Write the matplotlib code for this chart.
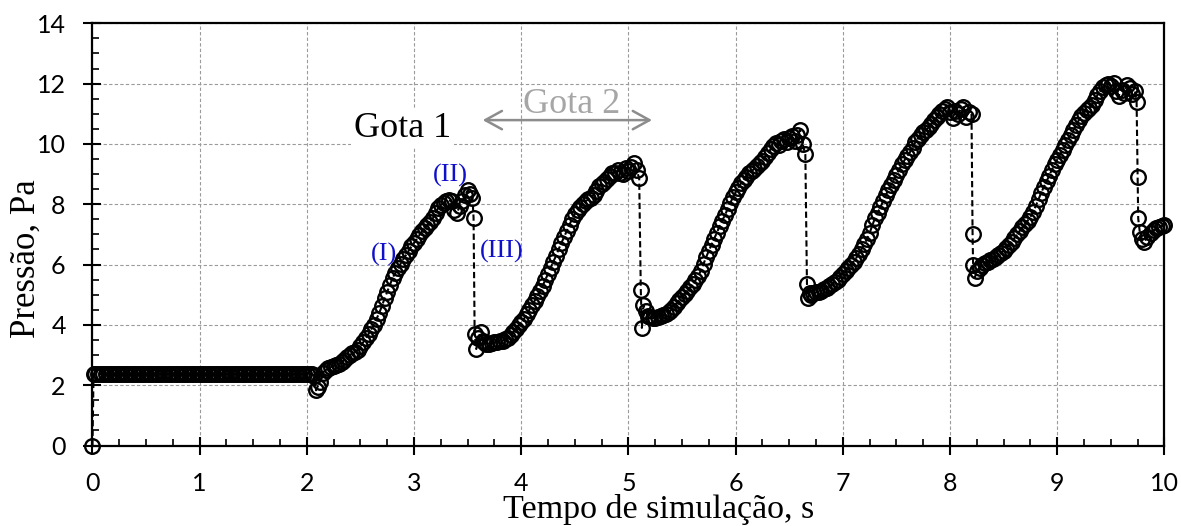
import matplotlib
matplotlib.use("Agg")
import matplotlib.pyplot as plt
from matplotlib.ticker import AutoMinorLocator

# ---------------- data ----------------
t_flat = [0.0, 0.01,
          0.025, 0.05, 0.075, 0.1, 0.125, 0.15, 0.175, 0.2, 0.225, 0.25, 0.275, 0.3, 0.325, 0.35, 0.375, 0.4, 0.425, 0.45, 0.475, 0.5,
          0.525, 0.55, 0.575, 0.6, 0.625, 0.65, 0.675, 0.7, 0.725, 0.75, 0.775, 0.8, 0.825, 0.85, 0.875, 0.9, 0.925, 0.95, 0.975, 1.0,
          1.025, 1.05, 1.075, 1.1, 1.125, 1.15, 1.175, 1.2, 1.225, 1.25, 1.275, 1.3, 1.325, 1.35, 1.375, 1.4, 1.425, 1.45, 1.475, 1.5,
          1.525, 1.55, 1.575, 1.6, 1.625, 1.65, 1.675, 1.7, 1.725, 1.75, 1.775, 1.8, 1.825, 1.85, 1.875, 1.9, 1.925, 1.95, 1.975, 2.0,
          2.025, 2.05]
p_flat = [0.0, 2.37,
          2.37, 2.37, 2.37, 2.37, 2.37, 2.37, 2.37, 2.37, 2.37, 2.37, 2.37, 2.37, 2.37, 2.37, 2.37, 2.37, 2.37, 2.37, 2.37, 2.37,
          2.37, 2.37, 2.37, 2.37, 2.37, 2.37, 2.37, 2.37, 2.37, 2.37, 2.37, 2.37, 2.37, 2.37, 2.37, 2.37, 2.37, 2.37, 2.37, 2.37,
          2.37, 2.37, 2.37, 2.37, 2.37, 2.37, 2.37, 2.37, 2.37, 2.37, 2.37, 2.37, 2.37, 2.37, 2.37, 2.37, 2.37, 2.37, 2.37, 2.37,
          2.37, 2.37, 2.37, 2.37, 2.37, 2.37, 2.37, 2.37, 2.37, 2.37, 2.37, 2.37, 2.37, 2.37, 2.37, 2.37, 2.37, 2.37, 2.37, 2.37,
          2.37, 2.37]

t_cyc1 = [2.07, 2.085, 2.1, 2.12, 2.15, 2.175, 2.2, 2.225, 2.25, 2.275, 2.3, 2.325, 2.35, 2.375, 2.4, 2.425, 2.45, 2.475,
          2.5, 2.525, 2.55, 2.575, 2.6, 2.625, 2.65, 2.675, 2.7, 2.725, 2.75, 2.775, 2.8, 2.825, 2.85, 2.875, 2.9, 2.925,
          2.95, 2.975, 3.0, 3.025, 3.05, 3.075, 3.1, 3.125, 3.15, 3.175, 3.2, 3.225, 3.25, 3.275, 3.3, 3.325, 3.35, 3.375,
          3.4, 3.425, 3.45, 3.475, 3.5, 3.525, 3.545, 3.555]
p_cyc1 = [2.30, 1.83, 1.95, 2.10, 2.42, 2.50, 2.56, 2.60, 2.64, 2.67, 2.70, 2.76, 2.85, 2.93, 3.00, 3.06, 3.10, 3.18,
          3.30, 3.42, 3.55, 3.70, 3.85, 4.00, 4.20, 4.40, 4.62, 4.88, 5.10, 5.33, 5.56, 5.72, 5.88, 6.03, 6.18, 6.32,
          6.46, 6.60, 6.72, 6.85, 6.98, 7.10, 7.22, 7.30, 7.42, 7.53, 7.70, 7.88, 7.98, 8.05, 8.10, 8.13, 8.10, 7.80,
          7.70, 7.95, 8.10, 8.30, 8.46, 8.35, 8.20, 7.55]

t_cyc2 = [3.565, 3.58, 3.6, 3.62, 3.64, 3.65, 3.675, 3.7, 3.725, 3.75, 3.775, 3.8, 3.825, 3.85, 3.875, 3.9, 3.925, 3.95,
          3.975, 4.0, 4.025, 4.05, 4.075, 4.1, 4.125, 4.15, 4.175, 4.2, 4.225, 4.25, 4.275, 4.3, 4.325, 4.35, 4.375, 4.4,
          4.425, 4.45, 4.475, 4.5, 4.525, 4.55, 4.575, 4.6, 4.625, 4.65, 4.675, 4.7, 4.725, 4.75, 4.775, 4.8, 4.825, 4.85,
          4.875, 4.9, 4.925, 4.95, 4.975, 5.0, 5.025, 5.05, 5.075, 5.1, 5.115]
p_cyc2 = [3.70, 3.20, 3.55, 3.75, 3.45, 3.42, 3.38, 3.38, 3.40, 3.42, 3.44, 3.46, 3.48, 3.52, 3.58, 3.65, 3.75, 3.87,
          3.98, 4.08, 4.20, 4.35, 4.50, 4.65, 4.80, 4.97, 5.12, 5.30, 5.50, 5.70, 5.90, 6.10, 6.30, 6.52, 6.72, 6.92,
          7.12, 7.32, 7.52, 7.68, 7.80, 7.92, 8.02, 8.10, 8.16, 8.22, 8.30, 8.45, 8.60, 8.68, 8.75, 8.85, 8.95, 9.02,
          9.05, 9.15, 9.05, 9.00, 9.20, 9.10, 9.25, 9.36, 9.15, 8.86, 5.15]

t_cyc3 = [5.125, 5.14, 5.16, 5.18, 5.2, 5.225, 5.25, 5.275, 5.3, 5.325, 5.35, 5.375, 5.4, 5.425, 5.45, 5.475, 5.5, 5.525,
          5.55, 5.575, 5.6, 5.625, 5.65, 5.675, 5.7, 5.725, 5.75, 5.775, 5.8, 5.825, 5.85, 5.875, 5.9, 5.925, 5.95, 5.975,
          6.0, 6.025, 6.05, 6.075, 6.1, 6.125, 6.15, 6.175, 6.2, 6.225, 6.25, 6.275, 6.3, 6.325, 6.35, 6.375, 6.4, 6.425,
          6.45, 6.475, 6.5, 6.525, 6.55, 6.575, 6.6, 6.625, 6.65]
p_cyc3 = [3.90, 4.65, 4.45, 4.30, 4.25, 4.22, 4.24, 4.26, 4.28, 4.32, 4.36, 4.42, 4.50, 4.60, 4.72, 4.82, 4.92, 5.02,
          5.13, 5.24, 5.36, 5.48, 5.62, 5.80, 6.02, 6.25, 6.46, 6.66, 6.86, 7.06, 7.28, 7.46, 7.64, 7.84, 8.04, 8.24,
          8.40, 8.55, 8.70, 8.82, 8.92, 9.02, 9.10, 9.18, 9.26, 9.36, 9.45, 9.56, 9.70, 9.82, 9.92, 10.02, 9.95, 10.10,
          10.15, 10.05, 10.20, 10.25, 10.10, 10.30, 10.46, 10.00, 9.65]

t_cyc4 = [6.665, 6.675, 6.69, 6.705, 6.725, 6.75, 6.775, 6.8, 6.825, 6.85, 6.875, 6.9, 6.925, 6.95, 6.975, 7.0, 7.025,
          7.05, 7.075, 7.1, 7.125, 7.15, 7.175, 7.2, 7.225, 7.25, 7.275, 7.3, 7.325, 7.35, 7.375, 7.4, 7.425, 7.45, 7.475,
          7.5, 7.525, 7.55, 7.575, 7.6, 7.625, 7.65, 7.675, 7.7, 7.725, 7.75, 7.775, 7.8, 7.825, 7.85, 7.875, 7.9, 7.925,
          7.95, 7.975, 8.0, 8.025, 8.05, 8.075, 8.1, 8.125, 8.15, 8.175, 8.2]
p_cyc4 = [5.37, 4.88, 5.05, 5.00, 5.05, 5.08, 5.10, 5.13, 5.18, 5.22, 5.28, 5.35, 5.42, 5.50, 5.58, 5.68, 5.78,
          5.90, 6.00, 6.10, 6.22, 6.36, 6.52, 6.68, 6.85, 7.05, 7.30, 7.55, 7.72, 7.90, 8.10, 8.30, 8.48, 8.65, 8.82,
          8.98, 9.15, 9.32, 9.46, 9.60, 9.72, 9.88, 10.05, 10.18, 10.28, 10.38, 10.46, 10.55, 10.66, 10.78, 10.88, 10.98, 11.08,
          11.15, 11.22, 11.05, 10.85, 11.10, 11.00, 11.15, 11.22, 10.90, 11.05, 11.00]

t_cyc5 = [8.21, 8.215, 8.23, 8.25, 8.275, 8.3, 8.325, 8.35, 8.375, 8.4, 8.425, 8.45, 8.475, 8.5, 8.525, 8.55, 8.575, 8.6,
          8.625, 8.65, 8.675, 8.7, 8.725, 8.75, 8.775, 8.8, 8.825, 8.85, 8.875, 8.9, 8.925, 8.95, 8.975, 9.0, 9.025, 9.05,
          9.075, 9.1, 9.125, 9.15, 9.175, 9.2, 9.225, 9.25, 9.275, 9.3, 9.325, 9.35, 9.375, 9.4, 9.425, 9.45, 9.475, 9.5,
          9.525, 9.55, 9.575, 9.6, 9.625, 9.65, 9.675, 9.7, 9.725, 9.74]
p_cyc5 = [7.00, 5.97, 5.55, 5.80, 5.90, 6.00, 6.06, 6.10, 6.14, 6.20, 6.26, 6.32, 6.38, 6.46, 6.55, 6.65, 6.76, 6.88,
          7.00, 7.12, 7.24, 7.35, 7.46, 7.58, 7.75, 7.95, 8.16, 8.38, 8.58, 8.76, 8.95, 9.15, 9.32, 9.48, 9.64, 9.80,
          9.96, 10.14, 10.30, 10.46, 10.62, 10.78, 10.92, 11.04, 11.12, 11.20, 11.30, 11.45, 11.62, 11.76, 11.88, 11.95, 12.00, 11.92,
          12.02, 11.75, 11.60, 11.80, 11.70, 11.95, 11.85, 11.65, 11.75, 11.40]

t_tail = [9.75, 9.755, 9.77, 9.79, 9.81, 9.84, 9.87, 9.9, 9.925, 9.95, 9.975, 10.0]
p_tail = [8.90, 7.53, 7.07, 6.85, 6.75, 6.90, 7.05, 7.13, 7.20, 7.24, 7.28, 7.30]

x_ticks = [0, 1, 2, 3, 4, 5, 6, 7, 8, 9, 10]
y_ticks = [0, 2, 4, 6, 8, 10, 12, 14]

time = t_flat + t_cyc1 + t_cyc2 + t_cyc3 + t_cyc4 + t_cyc5 + t_tail
pressure = p_flat + p_cyc1 + p_cyc2 + p_cyc3 + p_cyc4 + p_cyc5 + p_tail

# ---------------- figure ----------------
SERIF = ["Liberation Serif", "DejaVu Serif"]
TICKF = ["Lato", "DejaVu Sans"]

fig = plt.figure(figsize=(11.81, 5.26), dpi=100)
ax = fig.add_axes([0.0783, 0.1530, 0.9077, 0.8027])

ax.plot(time, pressure, color="black", linestyle=(0, (3, 1.6)), linewidth=1.5,
        marker="o", markersize=10.5, markerfacecolor="none", markeredgecolor="black",
        markeredgewidth=1.7, clip_on=False, zorder=4)

ax.set_xlim(0, 10)
ax.set_ylim(0, 14)
ax.set_xticks(x_ticks)
ax.set_yticks(y_ticks)
ax.xaxis.set_minor_locator(AutoMinorLocator(4))
ax.yaxis.set_minor_locator(AutoMinorLocator(4))

ax.set_axisbelow(True)
ax.grid(True, which="major", color="#9a9a9a", linestyle=(0, (3, 2)), linewidth=0.8)

for s in ax.spines.values():
    s.set_linewidth(1.6)
    s.set_color("black")

ax.tick_params(axis="both", which="major", direction="inout", length=12.5, width=1.5,
               pad=13, labelsize=18, color="black")
ax.tick_params(axis="both", which="minor", direction="in", length=5, width=1.2)
for lab in ax.get_xticklabels() + ax.get_yticklabels():
    lab.set_family(TICKF)

ax.set_xlabel("Tempo de simulação, s", family=SERIF, fontsize=24.5)
ax.set_ylabel("Pressão, Pa", family=SERIF, fontsize=25)
ax.xaxis.set_label_coords(0.528, -0.116)
ax.yaxis.set_label_coords(-0.046, 0.443)

# annotations
blue = "#1010CC"
ax.text(2.72, 6.14, "(I)", color=blue, family=SERIF, fontsize=19, ha="center", va="baseline", zorder=5)
ax.text(3.34, 8.75, "(II)", color=blue, family=SERIF, fontsize=19, ha="center", va="baseline", zorder=5)
ax.text(3.815, 6.23, "(III)", color=blue, family=SERIF, fontsize=19, ha="center", va="baseline", zorder=5)

ax.text(2.89, 10.22, "Gota 1", color="black", family=SERIF, fontsize=26, ha="center", va="baseline",
        zorder=5, bbox=dict(facecolor="white", edgecolor="none", pad=2))
ax.text(4.47, 11.02, "Gota 2", color="#a6a6a6", family=SERIF, fontsize=26, ha="center", va="baseline", zorder=5)
ax.annotate("", xy=(3.64, 10.79), xytext=(5.22, 10.79),
            arrowprops=dict(arrowstyle="<->,head_length=0.4,head_width=0.22", color="#8c8c8c",
                            lw=1.8, mutation_scale=30, shrinkA=0, shrinkB=0), zorder=5)

fig.savefig("out.png", dpi=100)
